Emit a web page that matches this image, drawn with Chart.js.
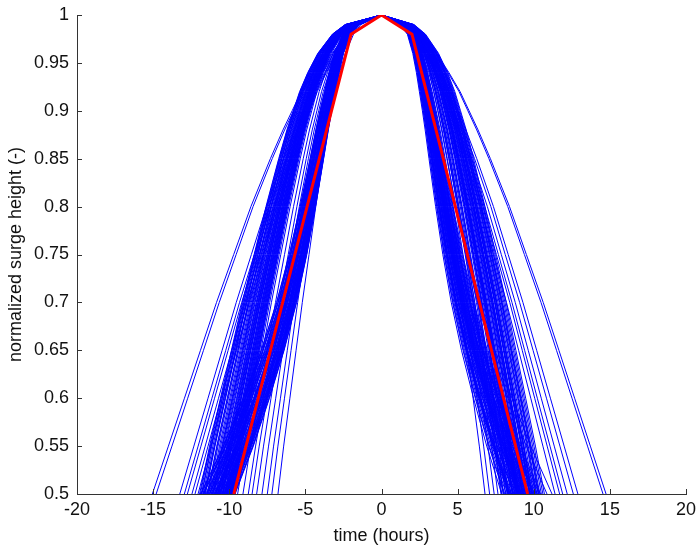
<!DOCTYPE html>
<html>
<head>
<meta charset="utf-8">
<script src="https://cdn.jsdelivr.net/npm/chart.js@4"></script>
<style>
  html, body { margin: 0; padding: 0; background: #fff; }
  #wrap { width: 697px; height: 547px; }
</style>
</head>
<body>
<div id="wrap"><canvas id="c" width="697" height="547"></canvas></div>
<script>
// Normalized surge profiles: every event peaks at t = 0 with height 1.
// Each blue curve: hours where it crosses 0.5 rising / falling, plus which shape it follows.
const riseCross = [
  -15.05, -14.8, -13.25, -12.95, -12.75, -12.45, -12.25, -12.05,
  -11.9, -11.85, -11.8, -11.72, -11.68, -11.6, -11.55, -11.5, -11.45, -11.4,
  -11.36, -11.3, -11.26, -11.2, -11.15, -11.1, -11.06, -11.0, -10.97, -10.92,
  -10.88, -10.85, -10.8, -10.76, -10.72, -10.7, -10.66, -10.62, -10.6, -10.56,
  -10.52, -10.5, -10.46, -10.42, -10.4, -10.37, -10.33, -10.3, -10.28, -10.25,
  -10.22, -10.2, -10.17, -10.14, -10.1, -10.08, -10.05, -10.02, -10.0, -9.97,
  -9.95, -9.92, -9.9, -9.87, -9.85, -9.82, -9.8, -9.78, -9.75, -9.7, -9.65, -9.6,
  -9.45, -9.1, -8.75, -8.5, -8.2, -7.85, -7.5, -7.2, -6.8,
  -11.88, -11.83, -11.75, -11.64, -11.57, -11.47, -11.42, -11.33, -11.28, -11.18,
  -11.12, -11.03, -10.95, -10.9, -10.82, -10.78, -10.68, -10.64, -10.58, -10.48,
  -10.44, -10.35, -10.31, -10.23, -10.19, -10.12, -10.06, -10.0, -9.93, -9.88,
  -9.84, -9.79, -9.74, -9.68, -9.62, -11.95, -11.7, -10.9, -10.4, -9.9
]
const fallCross = [
  14.75, 14.55, 12.9, 12.6, 12.2, 11.9, 11.7, 11.4,
  10.5, 11.2, 10.4, 9.9, 10.87, 10.3, 9.6, 10.45, 10.1, 9.8,
  10.35, 9.2, 10.2, 9.95, 10.25, 8.9, 9.7, 10.15, 9.5, 10.05,
  9.4, 9.87, 10.0, 8.6, 9.77, 9.3, 9.64, 9.84, 9.1, 9.57,
  9.74, 8.45, 9.47, 9.67, 9.24, 9.54, 8.82, 9.37, 9.44, 8.3,
  9.34, 9.27, 9.17, 9.02, 9.14, 8.74, 9.06, 8.2, 8.98, 8.94,
  8.55, 8.86, 8.0, 8.78, 8.7, 8.65, 7.9, 8.5, 8.4, 8.35, 8.1, 7.85,
  9.0, 8.6, 8.3, 7.65, 8.0, 7.4, 7.1, 7.9, 6.8,
  9.85, 10.3, 9.1, 10.6, 9.55, 8.95, 10.15, 9.65, 8.7, 10.0,
  9.35, 9.9, 8.5, 9.6, 9.2, 10.35, 8.85, 9.45, 9.75, 8.4,
  9.15, 9.95, 8.65, 9.3, 9.05, 8.15, 9.5, 8.8, 9.25, 8.05,
  8.6, 9.0, 8.25, 8.45, 8.9, 10.7, 10.05, 9.7, 8.95, 8.35
]
// 0 = bell, 1 = full-flanked, 2 = peaked
const shapeKind = [
  0, 0, 0, 0, 0, 0, 0, 0,
  1, 2, 1, 1, 2, 1, 2, 2, 1, 2,
  1, 2, 1, 2, 2, 1, 1, 2, 1, 2,
  2, 1, 2, 1, 1, 2, 2, 1, 2, 1,
  1, 2, 1, 2, 1, 2, 2, 1, 1, 2,
  2, 1, 2, 1, 2, 1, 1, 2, 2, 1,
  2, 1, 1, 2, 2, 1, 2, 1, 2, 1, 2, 1,
  1, 1, 1, 1, 1, 1, 1, 1, 1,
  2, 1, 2, 1, 1, 2, 1, 2, 2, 1,
  2, 1, 2, 1, 2, 2, 1, 2, 1, 2,
  1, 2, 2, 1, 2, 1, 2, 1, 2, 2,
  1, 2, 1, 2, 2, 1, 2, 2, 1, 2
]

// shapes: height level -> fraction of the 0.5 crossing time
const shapeLevel = [0.5, 0.55, 0.6, 0.65, 0.7, 0.75, 0.8, 0.85, 0.88, 0.9, 0.92, 0.94, 0.96, 0.98, 0.99, 1]
const bellFrac   = [1, 0.93, 0.86, 0.79, 0.72, 0.645, 0.57, 0.485, 0.43, 0.39, 0.35, 0.30, 0.245, 0.175, 0.125, 0]
const fullFrac   = [1, 0.945, 0.885, 0.825, 0.765, 0.70, 0.635, 0.565, 0.52, 0.485, 0.45, 0.405, 0.35, 0.27, 0.2, 0]
const peakFrac   = [1, 0.875, 0.765, 0.665, 0.58, 0.51, 0.45, 0.395, 0.363, 0.34, 0.315, 0.29, 0.26, 0.215, 0.15, 0]
const shapes = [bellFrac, fullFrac, peakFrac]

// red schematized hydrograph
const designTime   = [-9.7, -2, 0, 2, 9.6]
const designHeight = [0.5, 0.98, 1, 0.98, 0.5]

const xTicks = [-20, -15, -10, -5, 0, 5, 10, 15, 20]
const yTicks = [0.5, 0.55, 0.6, 0.65, 0.7, 0.75, 0.8, 0.85, 0.9, 0.95, 1]

const FONT = "'Liberation Sans', Arial, Helvetica, sans-serif"

function curvePoints(rise, fall, frac) {
  const up = shapeLevel.map((h, i) => ({ x: rise * frac[i], y: h }))
  const down = shapeLevel.slice(0, -1).map((h, i) => ({ x: fall * frac[i], y: h })).reverse()
  return up.concat(down)
}

const datasets = [{
  data: designTime.map((t, i) => ({ x: t, y: designHeight[i] })),
  borderColor: '#ff0000',
  borderWidth: 3,
  borderJoinStyle: 'miter'
}]
riseCross.forEach((r, i) => {
  datasets.push({
    data: curvePoints(r, fallCross[i], shapes[shapeKind[i]]),
    borderColor: '#0000ff',
    borderWidth: 1
  })
})

// MATLAB style inward tick marks
const innerTicks = {
  id: 'innerTicks',
  afterDatasetsDraw(chart) {
    const { ctx, scales: { x, y } } = chart
    ctx.save()
    ctx.strokeStyle = '#333'
    ctx.lineWidth = 1
    ctx.beginPath()
    xTicks.forEach(v => {
      const px = Math.round(x.getPixelForValue(v)) + 0.5
      ctx.moveTo(px, y.bottom)
      ctx.lineTo(px, y.bottom - 5)
    })
    yTicks.forEach(v => {
      const py = Math.round(y.getPixelForValue(v)) + 0.5
      ctx.moveTo(x.left, py)
      ctx.lineTo(x.left + 5, py)
    })
    ctx.stroke()
    ctx.restore()
  }
}

const fmt = v => String(+Number(v).toFixed(2))

new Chart(document.getElementById('c'), {
  type: 'scatter',
  data: { datasets },
  plugins: [innerTicks],
  options: {
    responsive: false,
    animation: false,
    events: [],
    showLine: true,
    elements: { point: { radius: 0 }, line: { tension: 0 } },
    layout: { padding: { top: 15, right: 11, left: 0, bottom: 0 } },
    plugins: { legend: { display: false }, tooltip: { enabled: false } },
    scales: {
      x: {
        type: 'linear',
        min: -20, max: 20,
        afterFit: s => { s.height = 53; s.paddingLeft = 0; s.paddingRight = 0 },
        afterBuildTicks: s => { s.ticks = xTicks.map(v => ({ value: v })) },
        grid: { display: false, drawTicks: false },
        border: { display: true, color: '#333', width: 1 },
        ticks: { color: '#111', padding: 5, font: { family: FONT, size: 18 }, callback: fmt, maxRotation: 0 },
        title: {
          display: true, text: 'time (hours)', color: '#111',
          padding: { top: 0, bottom: 0 }, font: { family: FONT, size: 18 }
        }
      },
      y: {
        type: 'linear',
        min: 0.5, max: 1,
        afterFit: s => { s.width = 77; s.paddingTop = 0; s.paddingBottom = 0 },
        afterBuildTicks: s => { s.ticks = yTicks.map(v => ({ value: v })) },
        grid: { display: false, drawTicks: false },
        border: { display: true, color: '#333', width: 1 },
        ticks: { color: '#111', padding: 8, font: { family: FONT, size: 18 }, callback: fmt },
        title: {
          display: true, text: 'normalized surge height (-)', color: '#111',
          padding: { top: 5, bottom: 0 }, font: { family: FONT, size: 18 }
        }
      }
    }
  }
})
</script>
</body>
</html>
